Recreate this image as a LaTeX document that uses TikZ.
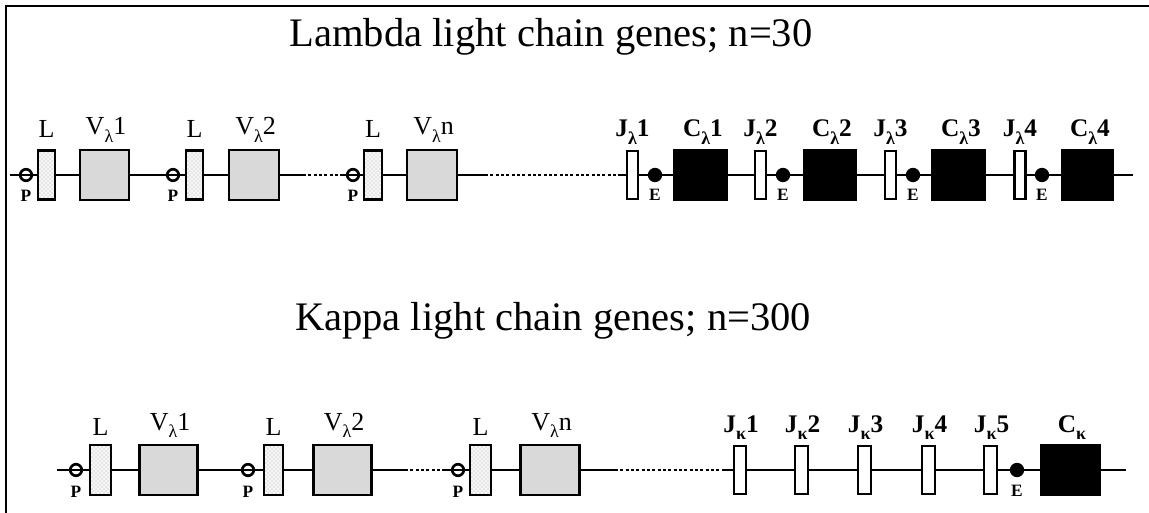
\documentclass[tikz,border=0pt]{standalone}
\usepackage{fontspec}
\setmainfont{Liberation Serif}
\usetikzlibrary{patterns}
% lowered Greek index after a gene letter
\newcommand{\gs}[1]{\raisebox{-0.3em}{\fontsize{13.5}{13.5}\selectfont #1}}

\begin{document}
\begin{tikzpicture}[x=0.75pt,y=-0.75pt,
  bw/.style={minimum width=#1*0.75pt},
  bh/.style={minimum height=#1*0.75pt},
  gene/.style={draw, line width=2pt, inner sep=0pt, outer sep=0pt},
  leader/.style={gene, preaction={fill=gray!6}, pattern=crosshatch dots, pattern color=gray!65, bh=49},
  vgene/.style={gene, fill=black!15, bh=50},
  jgene/.style={gene, fill=white, bh=48},
  cgene/.style={gene, fill=black, bh=50},
  prom/.style={circle, draw, line width=2pt, inner sep=0pt, minimum size=11.5*0.75pt},
  enh/.style={circle, draw, fill=black, line width=1pt, inner sep=0pt, minimum size=13*0.75pt},
  chain/.style={line width=2pt},
  gap/.style={line width=2pt, dash pattern=on 2.2pt off 1.8pt},
  title/.style={font=\fontsize{30.4}{30.4}\selectfont, inner sep=0pt, anchor=base},
  lab/.style={font=\fontsize{19.5}{19.5}\selectfont, inner sep=0pt, anchor=base},
  blab/.style={font=\fontsize{19}{19}\selectfont\bfseries, inner sep=0pt, anchor=base},
  tag/.style={font=\fontsize{13}{13}\selectfont\bfseries, inner sep=0pt, anchor=base},
]
\useasboundingbox (0,0) rectangle (1149,513);

% frame
\draw[line width=1.5pt] (6,513) -- (6,6) -- (1149,6);

% ---------------- lambda locus ----------------
\node[title] (tl) at (551,47) {Lambda light chain genes; n=30};

\coordinate (la0) at (10,175);
\node[prom] (lP1) at (26,175) {};
\node[prom] (lP2) at (173,175) {};
\node[prom] (lP3) at (353,175) {};
\node[leader, bw=17] (lL1) at (46.5,175) {};
\node[leader, bw=17] (lL2) at (194.5,175) {};
\node[leader, bw=18] (lL3) at (373,175) {};
\node[vgene, bw=49] (lV1) at (104.5,175) {};
\node[vgene, bw=50] (lV2) at (254,175) {};
\node[vgene, bw=50] (lV3) at (432,175) {};
\coordinate (ld1) at (303,175);
\coordinate (ld2) at (340,175);
\coordinate (ld3) at (485,175);
\coordinate (ld4) at (620,175);
\node[jgene, bw=11] (lJ1) at (632.5,175) {};
\node[jgene, bw=11] (lJ2) at (760.5,175) {};
\node[jgene, bw=11] (lJ3) at (890.5,175) {};
\node[jgene, bw=11] (lJ4) at (1020,175) {};
\node[enh] (lE1) at (655,175) {};
\node[enh] (lE2) at (783,175) {};
\node[enh] (lE3) at (913,175) {};
\node[enh] (lE4) at (1042,175) {};
\node[cgene, bw=53] (lC1) at (700.5,175) {};
\node[cgene, bw=52] (lC2) at (830,175) {};
\node[cgene, bw=53] (lC3) at (958.5,175) {};
\node[cgene, bw=51] (lC4) at (1087.5,175) {};
\coordinate (la9) at (1133,175);

\draw[chain] (la0) -- (lL1.west);
\draw[chain] (lL1.east) -- (lV1.west);
\draw[chain] (lV1.east) -- (lL2.west);
\draw[chain] (lL2.east) -- (lV2.west);
\draw[chain] (lV2.east) -- (ld1);
\draw[gap] (ld1) -- (ld2);
\draw[chain] (ld2) -- (lL3.west);
\draw[chain] (lL3.east) -- (lV3.west);
\draw[chain] (lV3.east) -- (ld3);
\draw[gap] (ld3) -- (ld4);
\draw[chain] (ld4) -- (lJ1.west);
\draw[chain] (lJ1.east) -- (lC1.west);
\draw[chain] (lC1.east) -- (lJ2.west);
\draw[chain] (lJ2.east) -- (lC2.west);
\draw[chain] (lC2.east) -- (lJ3.west);
\draw[chain] (lJ3.east) -- (lC3.west);
\draw[chain] (lC3.east) -- (lJ4.west);
\draw[chain] (lJ4.east) -- (lC4.west);
\draw[chain] (lC4.east) -- (la9);

\node[tag] (lP1t) at (26,202) {P};
\node[tag] (lP2t) at (173,202) {P};
\node[tag] (lP3t) at (353,202) {P};
\node[tag] (lE1t) at (655,201) {E};
\node[tag] (lE2t) at (783,201) {E};
\node[tag] (lE3t) at (913,201) {E};
\node[tag] (lE4t) at (1042,201) {E};
\node[lab] (lL1t) at (46.5,138) {L};
\node[lab] (lL2t) at (194.5,138) {L};
\node[lab] (lL3t) at (373,138) {L};
\node[lab] (lV1t) at (106,135) {V\gs{λ}1};
\node[lab] (lV2t) at (255.5,135) {V\gs{λ}2};
\node[lab] (lV3t) at (433.5,135) {V\gs{λ}n};
\node[blab] (lJ1t) at (632.5,137) {J\gs{λ}1};
\node[blab] (lJ2t) at (760.5,137) {J\gs{λ}2};
\node[blab] (lJ3t) at (890.5,137) {J\gs{λ}3};
\node[blab] (lJ4t) at (1020,137) {J\gs{λ}4};
\node[blab] (lC1t) at (703,137) {C\gs{λ}1};
\node[blab] (lC2t) at (832,137) {C\gs{λ}2};
\node[blab] (lC3t) at (961,137) {C\gs{λ}3};
\node[blab] (lC4t) at (1090,137) {C\gs{λ}4};

% ---------------- kappa locus ----------------
\node[title] (tk) at (553,330) {Kappa light chain genes; n=300};

\coordinate (ka0) at (57,470);
\node[prom] (kP1) at (76,470) {};
\node[prom] (kP2) at (248,470) {};
\node[prom] (kP3) at (458,470) {};
\node[leader, bw=21, bh=50] (kL1) at (100.5,470) {};
\node[leader, bw=19, bh=50] (kL2) at (273.5,470) {};
\node[leader, bw=21, bh=50] (kL3) at (480.5,470) {};
\node[vgene, bw=58] (kV1) at (168.5,470) {};
\node[vgene, bw=58] (kV2) at (342.5,470) {};
\node[vgene, bw=59] (kV3) at (550,470) {};
\coordinate (kd1) at (405,470);
\coordinate (kd2) at (445,470);
\coordinate (kd3) at (615,470);
\coordinate (kd4) at (722,470);
\node[jgene, bw=12] (kJ1) at (740,470) {};
\node[jgene, bw=13] (kJ2) at (801.5,470) {};
\node[jgene, bw=13] (kJ3) at (864.5,470) {};
\node[jgene, bw=13] (kJ4) at (928.5,470) {};
\node[jgene, bw=13] (kJ5) at (990.5,470) {};
\node[enh] (kE) at (1017,470) {};
\node[cgene, bw=59, bh=49] (kC) at (1070.5,470) {};
\coordinate (ka9) at (1126,470);

\draw[chain] (ka0) -- (kL1.west);
\draw[chain] (kL1.east) -- (kV1.west);
\draw[chain] (kV1.east) -- (kL2.west);
\draw[chain] (kL2.east) -- (kV2.west);
\draw[chain] (kV2.east) -- (kd1);
\draw[gap] (kd1) -- (kd2);
\draw[chain] (kd2) -- (kL3.west);
\draw[chain] (kL3.east) -- (kV3.west);
\draw[chain] (kV3.east) -- (kd3);
\draw[gap] (kd3) -- (kd4);
\draw[chain] (kd4) -- (kJ1.west);
\draw[chain] (kJ1.east) -- (kJ2.west);
\draw[chain] (kJ2.east) -- (kJ3.west);
\draw[chain] (kJ3.east) -- (kJ4.west);
\draw[chain] (kJ4.east) -- (kJ5.west);
\draw[chain] (kJ5.east) -- (kC.west);
\draw[chain] (kC.east) -- (ka9);

\node[tag] (kP1t) at (76,497) {P};
\node[tag] (kP2t) at (248,497) {P};
\node[tag] (kP3t) at (458,497) {P};
\node[tag] (kEt) at (1017,496) {E};
\node[lab] (kL1t) at (100.5,435) {L};
\node[lab] (kL2t) at (273.5,435) {L};
\node[lab] (kL3t) at (480.5,435) {L};
\node[lab] (kV1t) at (170,430) {V\gs{λ}1};
\node[lab] (kV2t) at (344,430) {V\gs{λ}2};
\node[lab] (kV3t) at (551.5,430) {V\gs{λ}n};
\node[blab] (kJ1t) at (741,432) {J\gs{κ}1};
\node[blab] (kJ2t) at (802.5,432) {J\gs{κ}2};
\node[blab] (kJ3t) at (865.5,432) {J\gs{κ}3};
\node[blab] (kJ4t) at (929.5,432) {J\gs{κ}4};
\node[blab] (kJ5t) at (991.5,432) {J\gs{κ}5};
\node[blab] (kCt) at (1072,432) {C\gs{κ}};
\end{tikzpicture}
\end{document}
